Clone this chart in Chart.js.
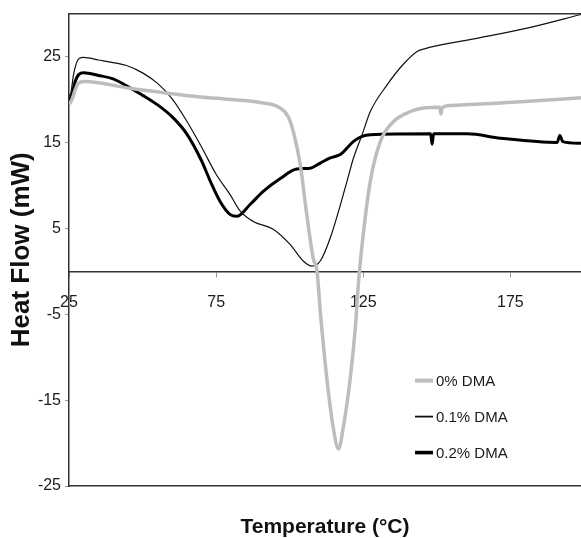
<!DOCTYPE html>
<html>
<head>
<meta charset="utf-8">
<script src="https://cdn.jsdelivr.net/npm/chart.js@4.4.0/dist/chart.umd.min.js"></script>
<style>
  body { margin: 0; background: #fff; }
</style>
</head>
<body>
<canvas id="chart1" width="581" height="538"></canvas>
<script>
/* data */

var seriesNames = ['0% DMA', '0.1% DMA', '0.2% DMA'];

var tempGray = [25, 26, 27.2, 28.2, 30.4, 45.7, 57, 69.6, 79.8, 91, 96.8, 99.5, 101.2, 103.6, 105.8, 108, 109.3, 110.4, 112.6, 114.8, 116.6, 118.2, 120.6, 122.3, 123.4, 125, 127.4, 130.8, 135.2, 141, 145.4, 151, 151.4, 151.8, 154.6, 177.3, 199];
var heatGray = [19.4, 20.0, 21.2, 21.9, 22.1, 21.3, 20.8, 20.3, 20.0, 19.6, 19.0, 18.0, 16.3, 12.4, 6.6, 1.5, 0, -4.7, -12.4, -18.2, -20.7, -18.2, -12.4, -6.6, -1.2, 4.3, 10.5, 15.1, 17.4, 18.6, 19.0, 19.1, 18.3, 19.0, 19.3, 19.7, 20.2];

var tempThin = [25, 25.7, 26.5, 27.5, 28.5, 30, 35, 40, 45, 50, 55, 60, 65, 70, 75, 79.8, 83.2, 87.6, 94.4, 100.2, 104.6, 107.6, 110.4, 113.8, 119.5, 121.6, 124.6, 127.4, 133.1, 138.6, 143.3, 145.8, 147.8, 164.8, 181.8, 199];
var heatThin = [20.3, 20.9, 22.8, 24.2, 24.8, 24.9, 24.6, 24.3, 23.9, 23.1, 21.9, 20.1, 17.5, 14.5, 11.3, 8.9, 7.0, 5.8, 4.9, 3.1, 1.2, 0.6, 1.2, 3.9, 10.5, 13.1, 15.9, 18.6, 21.7, 24.1, 25.6, 25.9, 26.1, 27.2, 28.4, 29.9];

var tempThick = [25, 26, 27, 28.3, 30, 35, 40, 45, 50, 55, 60, 65, 70, 73, 76.4, 79.8, 82, 86.6, 91, 96.8, 102.4, 107, 110.4, 113.8, 117.2, 121.6, 124.6, 127.4, 147.9, 148.4, 148.9, 160.3, 171.6, 190.9, 191.8, 192.8, 199];
var heatThick = [19.8, 20.6, 22.0, 22.9, 23.1, 22.8, 22.4, 21.5, 20.5, 19.4, 18.0, 16.0, 12.9, 10.5, 8.1, 6.6, 6.4, 7.8, 9.3, 10.8, 11.9, 12.0, 12.6, 13.2, 13.6, 15.1, 15.7, 15.9, 16.0, 14.8, 16.0, 16.0, 15.5, 15.0, 15.8, 15.1, 14.9];

var xTicks = [25, 75, 125, 175];
var yTicks = [-25, -15, -5, 5, 15, 25];

/* build points */

function toPoints(xs, ys) {
  var pts = [];
  for (var i = 0; i < xs.length; i++) {
    pts.push({ x: xs[i], y: ys[i] });
  }
  return pts;
}

var font = 'Liberation Sans, Arial, sans-serif';
Chart.defaults.font.family = font;
Chart.defaults.color = '#1a1a1a';

/* legend drawn inside the plot */
var legendBox = {
  id: 'legendBox',
  afterDraw: function (chart) {
    var ctx = chart.ctx;
    var area = chart.chartArea;
    var x0 = area.left + 346;
    var y0 = area.top + 367;
    ctx.save();
    chart.data.datasets.forEach(function (ds, i) {
      var y = y0 + i * 36;
      ctx.beginPath();
      ctx.strokeStyle = ds.borderColor;
      ctx.lineWidth = ds.borderWidth + 0.6;
      ctx.moveTo(x0, y);
      ctx.lineTo(x0 + 18, y);
      ctx.stroke();
      ctx.fillStyle = '#1a1a1a';
      ctx.font = '15px ' + font;
      ctx.textBaseline = 'middle';
      ctx.textAlign = 'left';
      ctx.fillText(ds.label, x0 + 21, y + 1);
    });
    ctx.restore();
  }
};

var axisLine = { color: '#333', width: 1.5 };

var ctx = document.getElementById('chart1').getContext('2d');

var myChart = new Chart(ctx, {
  type: 'line',
  data: {
    datasets: [
      { label: seriesNames[0], data: toPoints(tempGray, heatGray), borderColor: '#bdbdbd', borderWidth: 3.5 },
      { label: seriesNames[1], data: toPoints(tempThin, heatThin), borderColor: '#111', borderWidth: 1.2 },
      { label: seriesNames[2], data: toPoints(tempThick, heatThick), borderColor: '#000', borderWidth: 3 }
    ]
  },
  options: {
    responsive: false,
    animation: false,
    devicePixelRatio: 1,
    layout: { padding: { top: 12, left: 0, right: 0, bottom: 0 } },
    elements: {
      point: { radius: 0 },
      line: { cubicInterpolationMode: 'monotone', fill: false }
    },
    plugins: {
      legend: { display: false },
      tooltip: { enabled: false }
    },
    scales: {
      x: {
        type: 'linear',
        position: { y: 0 },
        min: 25,
        max: 199,
        afterBuildTicks: function (s) { s.ticks = xTicks.map(function (v) { return { value: v }; }); },
        afterFit: function (s) { s.height = 0; },
        ticks: { font: { size: 16 }, padding: 17, maxRotation: 0, autoSkip: false },
        grid: { drawOnChartArea: false, tickLength: 5, color: '#999' },
        border: axisLine
      },
      xBottom: {
        type: 'linear',
        position: 'bottom',
        min: 25,
        max: 199,
        afterFit: function (s) { s.height = 52; },
        ticks: { display: false },
        grid: { display: false },
        border: axisLine,
        title: {
          display: true,
          text: 'Temperature (°C)',
          font: { size: 21, weight: 'bold', lineHeight: 1 },
          padding: 0,
          color: '#111'
        }
      },
      xTop: {
        type: 'linear',
        position: 'top',
        min: 25,
        max: 199,
        afterFit: function (s) { s.height = 0; },
        ticks: { display: false },
        grid: { display: false },
        border: axisLine
      },
      y: {
        type: 'linear',
        min: -25,
        max: 30,
        afterBuildTicks: function (s) { s.ticks = yTicks.map(function (v) { return { value: v }; }); },
        afterFit: function (s) { s.width = 69; },
        ticks: { font: { size: 16 }, padding: 4 },
        grid: { drawOnChartArea: false, tickLength: 4, color: '#999' },
        border: axisLine,
        title: {
          display: true,
          text: 'Heat Flow (mW)',
          font: { size: 26, weight: 'bold', lineHeight: 1 },
          padding: { top: 9, bottom: 0 },
          color: '#111'
        }
      }
    }
  },
  plugins: [legendBox]
});
</script>
</body>
</html>
